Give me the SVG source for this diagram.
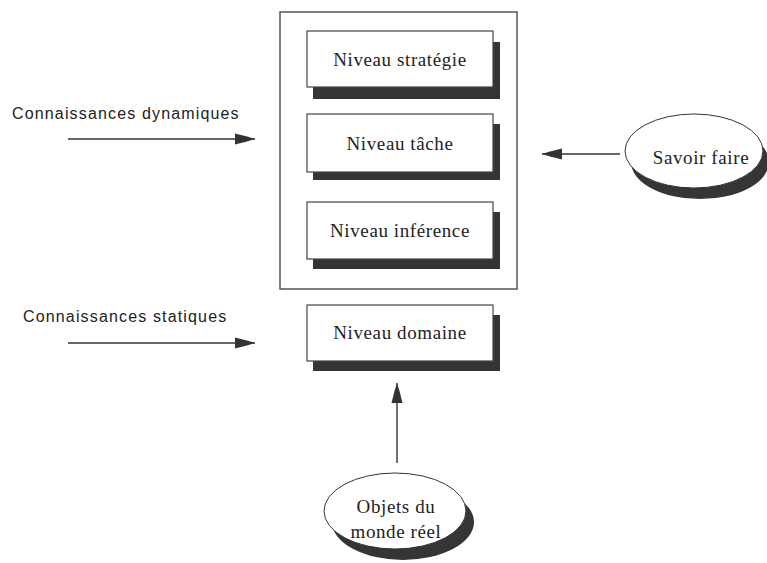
<svg xmlns="http://www.w3.org/2000/svg" width="767" height="563" viewBox="0 0 767 563">
  <style>
    .frame { fill: none; stroke: #555; stroke-width: 1.5; }
    .box { fill: #fff; stroke: #444; stroke-width: 1.2; }
    .shadow { fill: #353535; }
    .ell { fill: #fff; stroke: #333; stroke-width: 1; }
    .lbl { font-family: "Liberation Serif", "Times New Roman", serif; font-size: 19px; fill: #222; text-anchor: middle; letter-spacing: 0.6px; }
    .side { font-family: "Liberation Sans", Arial, sans-serif; font-size: 16px; fill: #222; letter-spacing: 1.15px; }
    .conn { stroke: #333; stroke-width: 1.4; fill: none; marker-end: url(#head); }
  </style>
  <defs>
    <marker id="head" markerUnits="userSpaceOnUse" markerWidth="24" markerHeight="14" viewBox="-21 -7 22 14" refX="0" refY="0" orient="auto">
      <path d="M-20,-5.5 L-8,-2.5 L0,0 L-8,2.5 L-20,5.5 Z" fill="#333"/>
    </marker>
  </defs>

  <rect width="767" height="563" fill="#fff"/>

  <!-- container for the three upper levels -->
  <g id="frame">
    <rect class="frame" x="280" y="12" width="237" height="277"/>
  </g>

  <g id="niveau-strategie">
    <rect class="shadow" x="313" y="42" width="187" height="57"/>
    <rect class="box" x="307" y="31" width="186" height="56"/>
    <text class="lbl" x="400" y="66">Niveau stratégie</text>
  </g>

  <g id="niveau-tache">
    <rect class="shadow" x="313" y="124" width="187" height="56"/>
    <rect class="box" x="307" y="114" width="186" height="58"/>
    <text class="lbl" x="400" y="150">Niveau tâche</text>
  </g>

  <g id="niveau-inference">
    <rect class="shadow" x="313" y="212" width="187" height="57"/>
    <rect class="box" x="307" y="202" width="186" height="57"/>
    <text class="lbl" x="400" y="237">Niveau inférence</text>
  </g>

  <g id="niveau-domaine">
    <rect class="shadow" x="313" y="315" width="187" height="56"/>
    <rect class="box" x="307" y="305" width="186" height="56"/>
    <text class="lbl" x="400" y="339">Niveau domaine</text>
  </g>

  <g id="savoir-faire">
    <ellipse class="shadow" cx="700" cy="162" rx="69" ry="37"/>
    <ellipse class="ell" cx="694" cy="151" rx="69" ry="37"/>
    <text class="lbl" x="701" y="164">Savoir faire</text>
  </g>

  <g id="objets-monde-reel">
    <ellipse class="shadow" cx="403" cy="522" rx="71" ry="38"/>
    <ellipse class="ell" cx="395" cy="511" rx="71" ry="38"/>
    <text class="lbl" x="396" y="513">Objets du</text>
    <text class="lbl" x="396" y="538">monde réel</text>
  </g>

  <g id="connaissances-dynamiques">
    <text class="side" x="12" y="119">Connaissances dynamiques</text>
  </g>

  <g id="connaissances-statiques">
    <text class="side" x="23" y="322">Connaissances statiques</text>
  </g>

  <g id="connectors">
    <line class="conn" x1="68" y1="139" x2="255" y2="139"/>
    <line class="conn" x1="68" y1="343" x2="255" y2="343"/>
    <line class="conn" x1="620" y1="154" x2="542" y2="154"/>
    <line class="conn" x1="397" y1="463" x2="397" y2="383"/>
  </g>
</svg>
